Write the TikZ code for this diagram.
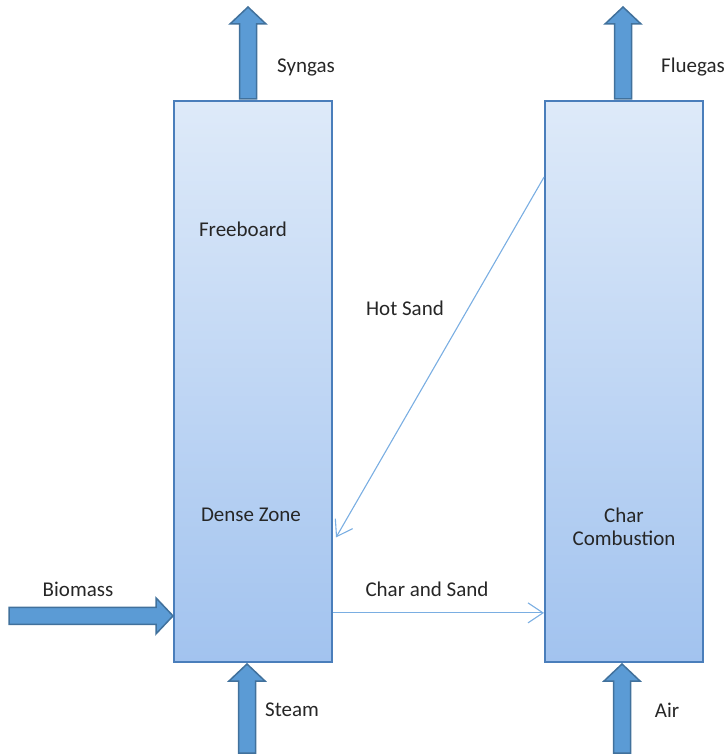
\documentclass[tikz,border=0pt]{standalone}
\usepackage{fontspec}
\setmainfont{Carlito}
\usetikzlibrary{arrows.meta,calc}

\definecolor{colborder}{HTML}{4A7EBB}
\definecolor{coltop}{HTML}{DEEAF9}
\definecolor{colbottom}{HTML}{A2C3EF}
\definecolor{arrowfill}{HTML}{5B9BD5}
\definecolor{arrowedge}{HTML}{41719C}
\definecolor{flowline}{HTML}{7AAEE2}
\definecolor{labeltext}{HTML}{262626}

\tikzset{
  column/.style={draw=colborder, line width=2pt, rectangle,
    minimum width=158pt, minimum height=561pt, inner sep=0pt,
    top color=coltop, bottom color=colbottom},
  label/.style={text=labeltext, font=\fontsize{21}{25}\selectfont, align=center, inner sep=0pt},
  flow/.style={draw=flowline, line width=1.1pt,
    -{Straight Barb[length=15pt,width=20pt,line width=1.1pt]}},
  % block arrow drawn pointing up, tip at the origin, shaft length #1
  pics/blockarrow/.style={code={
    \draw[fill=arrowfill, draw=arrowedge, line width=1.5pt, line join=miter]
      (0,0) -- (18,17) -- (8.5,17) -- (8.5,#1) -- (-8.5,#1) -- (-8.5,17) -- (-18,17) -- cycle;
  }}
}

\begin{document}
\begin{tikzpicture}[x=1pt, y=-1pt]
  \useasboundingbox (0,0) rectangle (726,754);

  % reactor columns
  \node[column] (gasifier) at (253,381.5) {};
  \node[column] (combustor) at (624,381.5) {};

  % contact points of the sand streams
  \coordinate (hotout) at ($(combustor.north west)!0.137!(combustor.south west)$);
  \coordinate (hotin)  at ($(gasifier.north east)!0.777!(gasifier.south east)+(3,0)$);
  \coordinate (charout) at ($(gasifier.north east)!0.911!(gasifier.south east)$);
  \coordinate (charin)  at (combustor.west |- charout);

  % inlet and outlet streams
  \coordinate (syngastip) at ($(gasifier.north)+(-5,-93)$);
  \coordinate (fluegastip) at ($(combustor.north)+(-1,-93)$);
  \coordinate (steamtip) at ($(gasifier.south)+(-6,1)$);
  \coordinate (airtip) at ($(combustor.south)+(-2,1)$);
  \coordinate (biomasstip) at (gasifier.west |- charout);
  \coordinate (biomasstip) at ($(biomasstip)+(0,3)$);

  \pic at (syngastip) {blockarrow=92};
  \pic at (fluegastip) {blockarrow=92};
  \pic at (steamtip) {blockarrow=89};
  \pic at (airtip) {blockarrow=89};
  \pic[rotate=-90] at (biomasstip) {blockarrow=164};

  % sand circulation
  \draw[flow] (hotout) -- (hotin);
  \draw[flow] (charout) -- (charin);

  % labels
  \node[label] (lsyngas) at (306,67) {Syngas};
  \node[label] (lflue) at (693,67) {Fluegas};
  \node[label] (lfree) at (243,229) {Freeboard};
  \node[label] (lhot) at (405,308) {Hot Sand};
  \node[label] (ldense) at (251,515) {Dense Zone};
  \node[label] (lchar) at (624,527) {Char\\[-2pt]Combustion};
  \node[label] (lbio) at (78,589) {Biomass};
  \node[label] (lcs) at (427,589) {Char and Sand};
  \node[label] (lsteam) at (292,710) {Steam};
  \node[label] (lair) at (667,710) {Air};
\end{tikzpicture}
\end{document}
